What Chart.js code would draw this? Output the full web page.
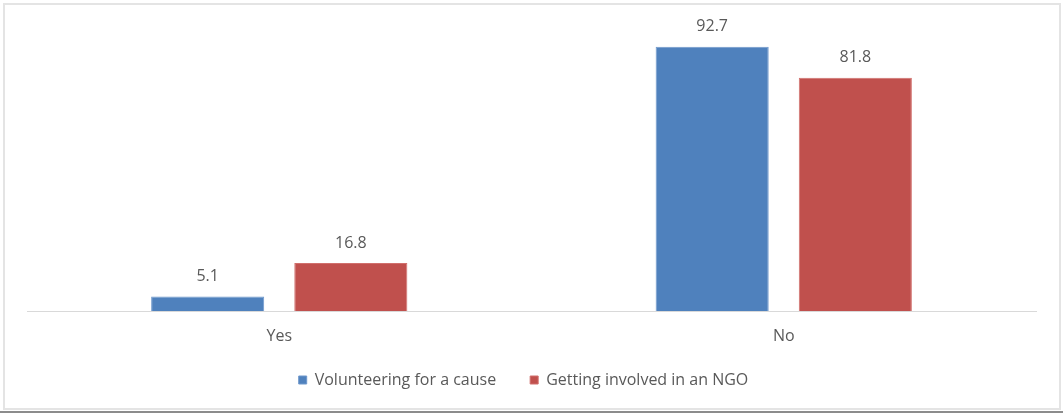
<!DOCTYPE html>
<html>
<head>
<meta charset="utf-8">
<script src="https://cdn.jsdelivr.net/npm/chart.js@4/dist/chart.umd.min.js"></script>
<style>
  html, body { margin: 0; padding: 0; background: #fff; }
  #frame {
    position: absolute; left: 3px; top: 3px;
    width: 1054px; height: 403px;
    border: 2px solid #e4e4e4;
  }
  #rule {
    position: absolute; left: 0; top: 411px;
    width: 1063px; height: 2px; background: #8c8c8c;
  }
  #wrap { position: absolute; left: 0; top: 0; width: 1063px; height: 414px; }
</style>
</head>
<body>
<div id="frame"></div>
<div id="rule"></div>
<div id="wrap"><canvas id="chart"></canvas></div>
<script>
const categories = ['Yes', 'No'];
const volunteering = [5.1, 92.7];
const ngo = [16.8, 81.8];
const seriesNames = ['Volunteering for a cause', 'Getting involved in an NGO'];

const FONT = "'Open Sans', sans-serif";
const TEXT = '#595959';

// prints each bar's value just above it
const valueLabels = {
  id: 'valueLabels',
  afterDatasetsDraw(chart) {
    const ctx = chart.ctx;
    ctx.save();
    ctx.font = `16px ${FONT}`;
    ctx.fillStyle = TEXT;
    ctx.textAlign = 'center';
    ctx.textBaseline = 'middle';
    chart.data.datasets.forEach((ds, i) => {
      chart.getDatasetMeta(i).data.forEach((bar, j) => {
        ctx.fillText(ds.data[j].toFixed(1), bar.x, bar.y - 20);
      });
    });
    ctx.restore();
  }
};

// nudge the legend row a little to the left of centre
const legendNudge = {
  id: 'legendNudge',
  afterLayout(chart) {
    if (chart.legend) {
      chart.legend.left -= 8;
      chart.legend.right -= 8;
    }
  }
};

new Chart(document.getElementById('chart'), {
  type: 'bar',
  data: {
    labels: categories,
    datasets: [
      {
        label: seriesNames[0],
        data: volunteering,
        backgroundColor: '#4f81bd',
        borderColor: '#6f98cc',
        borderWidth: 1
      },
      {
        label: seriesNames[1],
        data: ngo,
        backgroundColor: '#c0504d',
        borderColor: '#d16f6c',
        borderWidth: 1
      }
    ]
  },
  options: {
    responsive: true,
    maintainAspectRatio: false,
    animation: false,
    devicePixelRatio: 1,
    layout: { padding: { left: 27, right: 27, top: 26, bottom: 16 } },
    datasets: {
      bar: { categoryPercentage: 0.5675, barPercentage: 0.79 }
    },
    plugins: {
      legend: {
        position: 'bottom',
        labels: {
          boxWidth: 8,
          boxHeight: 8,
          padding: 34,
          color: TEXT,
          font: { family: FONT, size: 16 }
        }
      },
      tooltip: { enabled: false }
    },
    scales: {
      x: {
        grid: { display: false },
        border: { display: true, color: '#d9d9d9', width: 1 },
        ticks: { color: TEXT, font: { family: FONT, size: 16 }, padding: 8 },
        afterFit(scale) {
          scale.height = 27;
          // axis box is kept tight, so let the labels spill past it
          scale._computeLabelArea = () => undefined;
        }
      },
      y: {
        display: false,
        min: 0,
        max: 100
      }
    }
  },
  plugins: [valueLabels, legendNudge]
});
</script>
</body>
</html>
